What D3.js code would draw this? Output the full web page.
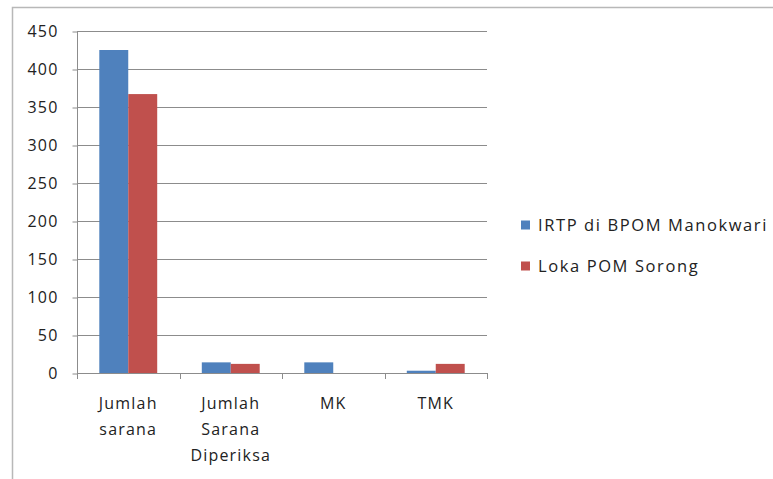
<!DOCTYPE html>
<html><head><meta charset="utf-8">
<script src="https://cdn.jsdelivr.net/npm/d3@7"></script>
<style>body{margin:0;background:#fff}svg{display:block}text{font-family:"Open Sans",sans-serif;fill:#222}</style>
</head><body>
<script>
const categories = [["Jumlah","sarana"],["Jumlah","Sarana","Diperiksa"],["MK"],["TMK"]];
const seriesNames = ["IRTP di BPOM Manokwari","Loka POM Sorong"];
const irtp = [425, 14, 14, 3];
const loka = [367, 12, 0, 12];
const yTicks = [0,50,100,150,200,250,300,350,400,450];
const colors = ["#4F81BD","#C0504D"];

const W=773,H=479;
const svg=d3.select("body").append("svg").attr("width",W).attr("height",H);
// outer frame
svg.append("path").attr("d","M12.5,479 V7.5 H773").attr("fill","none").attr("stroke","#b8b8b8").attr("stroke-width",1.5);

const x0=77,x1=487,yTop=31,yBot=373;
const x=d3.scaleBand().domain(d3.range(categories.length)).range([x0,x1]).paddingInner(0).paddingOuter(0);
const y=d3.scaleLinear().domain([0,450]).range([yBot,yTop]);
const inner=d3.scaleBand().domain([0,1]).range([0,x.bandwidth()]).paddingInner(0).paddingOuter(0.77);

// grid
svg.append("g").selectAll("line").data(yTicks.filter(d=>d>0)).join("line")
  .attr("x1",x0).attr("x2",x1).attr("y1",d=>Math.round(y(d))+0.5).attr("y2",d=>Math.round(y(d))+0.5)
  .attr("stroke","#8c8c8c").attr("stroke-width",1);

// y axis
const ya=svg.append("g").attr("transform",`translate(${x0+0.5},0.5)`).call(d3.axisLeft(y).tickValues(yTicks).tickSize(5).tickPadding(14));
ya.select(".domain").attr("stroke","#8c8c8c").attr("d",`M0,${yTop}V${yBot}`);
ya.selectAll(".tick line").attr("stroke","#8c8c8c");
ya.selectAll(".tick text").attr("font-size",16).attr("font-family","'Open Sans',sans-serif").attr("fill","#222").attr("letter-spacing","1.2px");

// bars
const data=[irtp,loka];
data.forEach((vals,s)=>{
  svg.append("g").selectAll("rect").data(vals).join("rect")
    .attr("x",(d,i)=>x(i)+inner(s)).attr("width",inner.bandwidth())
    .attr("y",d=>y(d)).attr("height",d=>yBot-y(d)).attr("fill",colors[s]);
});

// x axis
svg.append("line").attr("x1",x0).attr("x2",x1).attr("y1",yBot+0.5).attr("y2",yBot+0.5).attr("stroke","#8c8c8c");
const xt=[...d3.range(categories.length).map(i=>x(i)),x1];
svg.append("g").selectAll("line").data(xt).join("line")
  .attr("x1",d=>Math.round(d)+0.5).attr("x2",d=>Math.round(d)+0.5).attr("y1",yBot).attr("y2",yBot+6).attr("stroke","#8c8c8c");
const lab=svg.append("g").selectAll("text").data(categories).join("text")
  .attr("text-anchor","middle").attr("font-size",16).attr("letter-spacing","1.2px")
  .attr("x",(d,i)=>x(i)+x.bandwidth()/2).attr("y",409);
lab.selectAll("tspan").data(d=>d).join("tspan")
  .attr("x",function(){return d3.select(this.parentNode).attr("x");})
  .attr("dy",(d,i)=>i?26:0).text(d=>d);

// legend
const lg=svg.append("g").selectAll("g").data(seriesNames).join("g")
  .attr("transform",(d,i)=>`translate(521,${225+i*41})`);
lg.append("rect").attr("x",0).attr("y",-4.5).attr("width",9).attr("height",9).attr("fill",(d,i)=>colors[i]);
lg.append("text").attr("x",17).attr("y",0).attr("dy","0.35em").attr("font-size",16.5).attr("letter-spacing","1.6px").text(d=>d);
</script>
</body></html>
